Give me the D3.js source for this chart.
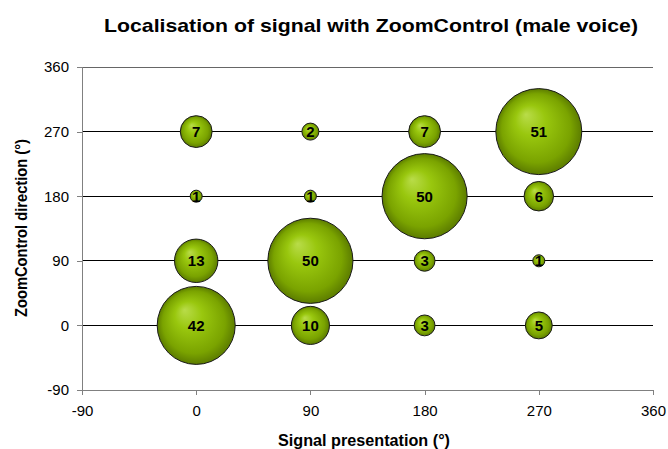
<!DOCTYPE html>
<html>
<head>
<meta charset="utf-8">
<script src="https://cdn.jsdelivr.net/npm/d3@7"></script>
<style>
  body { margin: 0; background: #fff; }
  text { font-family: "Liberation Sans", Arial, sans-serif; }
</style>
</head>
<body>
<svg width="668" height="449"></svg>
<script>
// signal presentation (x), ZoomControl direction (y), count
var xValues = [0, 0, 0, 0, 90, 90, 90, 90, 180, 180, 180, 180, 270, 270, 270, 270];
var yValues = [270, 180, 90, 0, 270, 180, 90, 0, 270, 180, 90, 0, 270, 180, 90, 0];
var counts = [7, 1, 13, 42, 2, 1, 50, 10, 7, 50, 3, 3, 51, 6, 1, 5];
var tickValues = [-90, 0, 90, 180, 270, 360];

var svg = d3.select("svg");

var x = d3.scaleLinear().domain([-90, 360]).range([82, 653]);
var y = d3.scaleLinear().domain([-90, 360]).range([390, 67]);
var r = d3.scaleSqrt().domain([0, 51]).range([0, 43]);

var defs = svg.append("defs");
var grad = defs.append("radialGradient")
  .attr("id", "bub")
  .attr("cx", "50%").attr("cy", "50%").attr("r", "50%")
  .attr("fx", "35%").attr("fy", "30%");
grad.append("stop").attr("offset", "0%").attr("stop-color", "#b9dc4a");
grad.append("stop").attr("offset", "35%").attr("stop-color", "#99c70e");
grad.append("stop").attr("offset", "80%").attr("stop-color", "#7aa300");
grad.append("stop").attr("offset", "100%").attr("stop-color", "#5c7c00");

// gridlines
svg.append("g")
  .selectAll("line")
  .data([0, 90, 180, 270])
  .enter().append("line")
  .attr("x1", 82).attr("x2", 653)
  .attr("y1", function (d) { return y(d); })
  .attr("y2", function (d) { return y(d); })
  .attr("stroke", "#000")
  .attr("stroke-width", 1)
  .attr("shape-rendering", "crispEdges");

svg.append("line")
  .attr("x1", 82).attr("x2", 653)
  .attr("y1", y(360)).attr("y2", y(360))
  .attr("stroke", "#666")
  .attr("shape-rendering", "crispEdges");

// axes
var xAxis = svg.append("g")
  .attr("transform", "translate(0," + y(-90) + ")")
  .call(d3.axisBottom(x).tickValues(tickValues).tickFormat(String).tickSize(5).tickPadding(10));
var yAxis = svg.append("g")
  .attr("transform", "translate(" + x(-90) + ",0)")
  .call(d3.axisLeft(y).tickValues(tickValues).tickFormat(String).tickSize(5).tickPadding(8));

[xAxis, yAxis].forEach(function (a) {
  a.select(".domain").attr("stroke", "#808080");
  a.selectAll(".tick line").attr("stroke", "#808080");
  a.selectAll("text")
    .attr("fill", "#000")
    .style("font-size", "15px")
    .style("font-family", "'Liberation Sans', Arial, sans-serif");
  a.attr("shape-rendering", "crispEdges");
});

// bubbles, largest first so small ones stay on top
var idx = d3.range(counts.length).sort(function (a, b) { return counts[b] - counts[a]; });

var bubble = svg.append("g")
  .selectAll("g")
  .data(idx)
  .enter().append("g")
  .attr("transform", function (i) {
    return "translate(" + x(xValues[i]) + "," + y(yValues[i]) + ")";
  });

bubble.append("circle")
  .attr("r", function (i) { return r(counts[i]); })
  .attr("fill", "url(#bub)")
  .attr("stroke", "#1a1a1a")
  .attr("stroke-width", 1);

bubble.append("text")
  .attr("text-anchor", "middle")
  .attr("dy", "0.36em")
  .style("font-size", "15px")
  .style("font-weight", "bold")
  .text(function (i) { return counts[i]; });

// titles
svg.append("text")
  .attr("x", 371).attr("y", 32)
  .attr("text-anchor", "middle")
  .attr("textLength", 534)
  .attr("lengthAdjust", "spacingAndGlyphs")
  .style("font-size", "19px")
  .style("font-weight", "bold")
  .text("Localisation of signal with ZoomControl (male voice)");

svg.append("text")
  .attr("x", 364).attr("y", 446)
  .attr("text-anchor", "middle")
  .attr("textLength", 172)
  .attr("lengthAdjust", "spacingAndGlyphs")
  .style("font-size", "17px")
  .style("font-weight", "bold")
  .text("Signal presentation (°)");

svg.append("text")
  .attr("transform", "translate(27,228) rotate(-90)")
  .attr("text-anchor", "middle")
  .attr("textLength", 178)
  .attr("lengthAdjust", "spacingAndGlyphs")
  .style("font-size", "16px")
  .style("font-weight", "bold")
  .text("ZoomControl direction (°)");
</script>
</body>
</html>
